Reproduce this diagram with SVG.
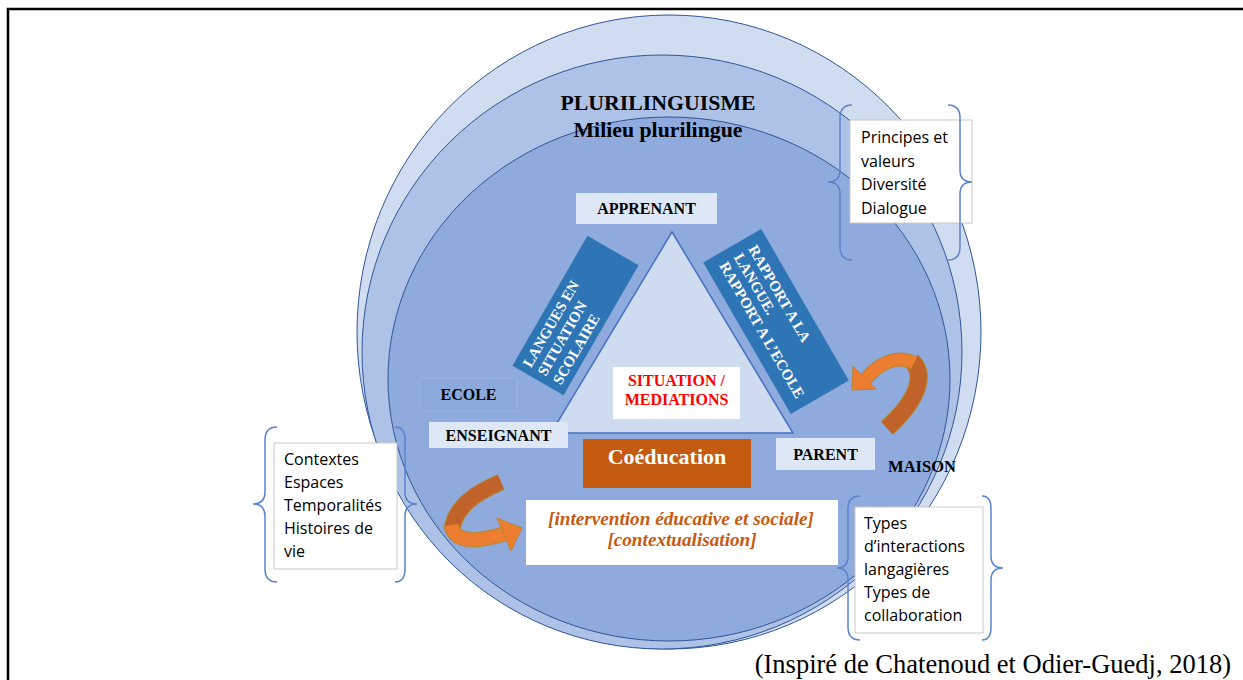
<svg xmlns="http://www.w3.org/2000/svg" width="1243" height="680" viewBox="0 0 1243 680">
<style>
.ring{stroke:#2f5597;stroke-width:1}
.lbl{font-family:"Liberation Serif","Times New Roman",serif;font-weight:bold;fill:#000;font-size:16px}
.lbox{fill:#dde7f5}
.blue{fill:#2e75b6}
.wt{font-family:"Liberation Serif","Times New Roman",serif;font-weight:bold;fill:#fff;font-size:15px}
.side{fill:#fff;stroke:#c8c8c8;stroke-width:1}
.st{font-family:"Open Sans","Noto Sans","Liberation Sans",sans-serif;font-size:16px;fill:#000}
.brace{fill:none;stroke:#5b82cf;stroke-width:1.5}
.rib-o{fill:none;stroke:#b8862b;stroke-linecap:butt}
.rib-f{fill:none;stroke:#ed7d31;stroke-linecap:butt}
.rib-b{fill:none;stroke:#c0622a;stroke-linecap:butt}
</style>
<rect x="0" y="0" width="1243" height="680" fill="#fff"/>
<g id="circles">
<ellipse class="ring" cx="669" cy="332" rx="312" ry="317" fill="#d0ddf0"/>
<ellipse class="ring" cx="662" cy="352" rx="300" ry="297" fill="#adc2e6"/>
<ellipse class="ring" cx="669" cy="379" rx="281" ry="262" fill="#8faadc"/>
</g>
<g id="title">
<text class="lbl" x="658" y="110" text-anchor="middle" style="font-size:21.8px">PLURILINGUISME</text>
<text class="lbl" x="658" y="137" text-anchor="middle" style="font-size:21.8px">Milieu plurilingue</text>
</g>
<g id="triangle">
<polygon points="672,232 793,433 551,433" fill="#cfdbef" stroke="#4472c4" stroke-width="1.5"/>
</g>
<g id="langues">
<g transform="translate(575.5,315.5) rotate(-60)">
<rect class="blue" x="-75" y="-29.5" width="150" height="59"/>
<text class="wt" x="-68" y="-12">LANGUES EN</text>
<text class="wt" x="-68" y="5">SITUATION</text>
<text class="wt" x="-68" y="22.5">SCOLAIRE</text>
</g>
</g>
<g id="rapport">
<g transform="translate(776,321.5) rotate(60)">
<rect class="blue" x="-87.5" y="-33.5" width="175" height="67"/>
<text class="wt" x="-77" y="-12">RAPPORT A LA</text>
<text class="wt" x="-77" y="4.5">LANGUE.</text>
<text class="wt" x="-77" y="21.5">RAPPORT A L’ECOLE</text>
</g>
</g>
<g id="apprenant">
<rect class="lbox" x="576" y="193" width="141" height="31"/>
<text class="lbl" x="646.5" y="214" text-anchor="middle">APPRENANT</text>
</g>
<g id="situation">
<rect x="613" y="367" width="127" height="52" fill="#fff"/>
<text class="lbl" x="676.5" y="386" text-anchor="middle" style="fill:#ff0000">SITUATION /</text>
<text class="lbl" x="676.5" y="405" text-anchor="middle" style="fill:#ff0000">MEDIATIONS</text>
</g>
<g id="ecole">
<rect x="420" y="378" width="97" height="33" fill="#8ca9db" stroke="#9fb6e2" stroke-width="0.8"/>
<text class="lbl" x="468.5" y="400" text-anchor="middle">ECOLE</text>
</g>
<g id="enseignant">
<rect class="lbox" x="429" y="422" width="139" height="26"/>
<text class="lbl" x="498.5" y="441" text-anchor="middle">ENSEIGNANT</text>
</g>
<g id="coeducation">
<rect x="583" y="439" width="168" height="49" fill="#c55a11"/>
<text x="667" y="464" text-anchor="middle" font-family="Liberation Serif, Times New Roman, serif" font-weight="bold" font-size="22" fill="#fff">Coéducation</text>
</g>
<g id="parent">
<rect class="lbox" x="776" y="438" width="99" height="32"/>
<text class="lbl" x="825.5" y="460" text-anchor="middle">PARENT</text>
</g>
<g id="maison">
<text class="lbl" x="922" y="472" text-anchor="middle" style="font-size:16.5px">MAISON</text>
</g>
<g id="intervention">
<rect x="526" y="500" width="312" height="65" fill="#fff"/>
<text x="681" y="525" text-anchor="middle" font-family="Liberation Serif, Times New Roman, serif" font-weight="bold" font-style="italic" font-size="19.2" fill="#c55a11">[intervention éducative et sociale]</text>
<text x="682" y="546" text-anchor="middle" font-family="Liberation Serif, Times New Roman, serif" font-weight="bold" font-style="italic" font-size="19.2" fill="#c55a11">[contextualisation]</text>
</g>
<g id="connectors">
<g id="arrow-right">
<path class="rib-o" stroke-width="18" d="M912,361 C926,375 918,400 887,428"/>
<path class="rib-b" stroke-width="16" d="M912,361 C926,375 918,400 887,428"/>
<path class="rib-o" stroke-width="14" d="M866,379 C878,364 896,354 914,363"/>
<path class="rib-f" stroke-width="12" d="M866,379 C878,364 896,354 914,363"/>
<polygon points="853,366 876,389 852,390" fill="#ed7d31" stroke="#b8862b" stroke-width="1"/>
</g>
<g id="arrow-left">
<path class="rib-o" stroke-width="17" d="M501,482 C478,492 455,505 452,530"/>
<path class="rib-b" stroke-width="15" d="M501,482 C478,492 455,505 452,530"/>
<path class="rib-o" stroke-width="15" d="M451,525 C455,545 480,541 504,534"/>
<path class="rib-f" stroke-width="13" d="M451,525 C455,545 480,541 504,534"/>
<polygon points="497,518 522,528 511,551" fill="#ed7d31" stroke="#b8862b" stroke-width="1"/>
</g>
</g>
<g id="principes">
<rect class="side" x="850" y="120" width="122" height="103"/>
<text class="st" x="861" y="143">Principes et</text>
<text class="st" x="861" y="167">valeurs</text>
<text class="st" x="861" y="190">Diversité</text>
<text class="st" x="861" y="214">Dialogue</text>
<path class="brace" d="M852,105 Q840,105 840,118 V170 Q840,182 828,182 Q840,182 840,194 V247 Q840,260 852,260"/>
<path class="brace" d="M948,105 Q960,105 960,118 V170 Q960,182 972,182 Q960,182 960,194 V247 Q960,260 948,260"/>
</g>
<g id="contextes">
<rect class="side" x="274" y="443" width="123" height="126"/>
<text class="st" x="284" y="465">Contextes</text>
<text class="st" x="284" y="488">Espaces</text>
<text class="st" x="284" y="511">Temporalités</text>
<text class="st" x="284" y="534">Histoires de</text>
<text class="st" x="284" y="557">vie</text>
<path class="brace" d="M277,427 Q265,427 265,440 V492 Q265,504 253,504 Q265,504 265,516 V569 Q265,582 277,582"/>
<path class="brace" d="M395,427 Q405,427 405,440 V492 Q405,504 417,504 Q405,504 405,516 V569 Q405,582 395,582"/>
</g>
<g id="types">
<rect class="side" x="855" y="507" width="128" height="126"/>
<text class="st" x="864" y="529">Types</text>
<text class="st" x="864" y="552">d’interactions</text>
<text class="st" x="864" y="575">langagières</text>
<text class="st" x="864" y="598">Types de</text>
<text class="st" x="864" y="621">collaboration</text>
<path class="brace" d="M860,496 Q848,496 848,509 V556 Q848,568 837,568 Q848,568 848,580 V627 Q848,640 860,640"/>
<path class="brace" d="M982,496 Q991,496 991,509 V556 Q991,568 1003,568 Q991,568 991,580 V627 Q991,640 982,640"/>
</g>
<g id="source">
<text x="1231" y="673" text-anchor="end" font-family="Liberation Serif, Times New Roman, serif" font-size="26.5" fill="#000">(Inspiré de Chatenoud et Odier-Guedj, 2018)</text>
</g>
<g id="frame">
<path d="M8,680 V9 H1243" fill="none" stroke="#000" stroke-width="2.5"/>
</g>
</svg>
